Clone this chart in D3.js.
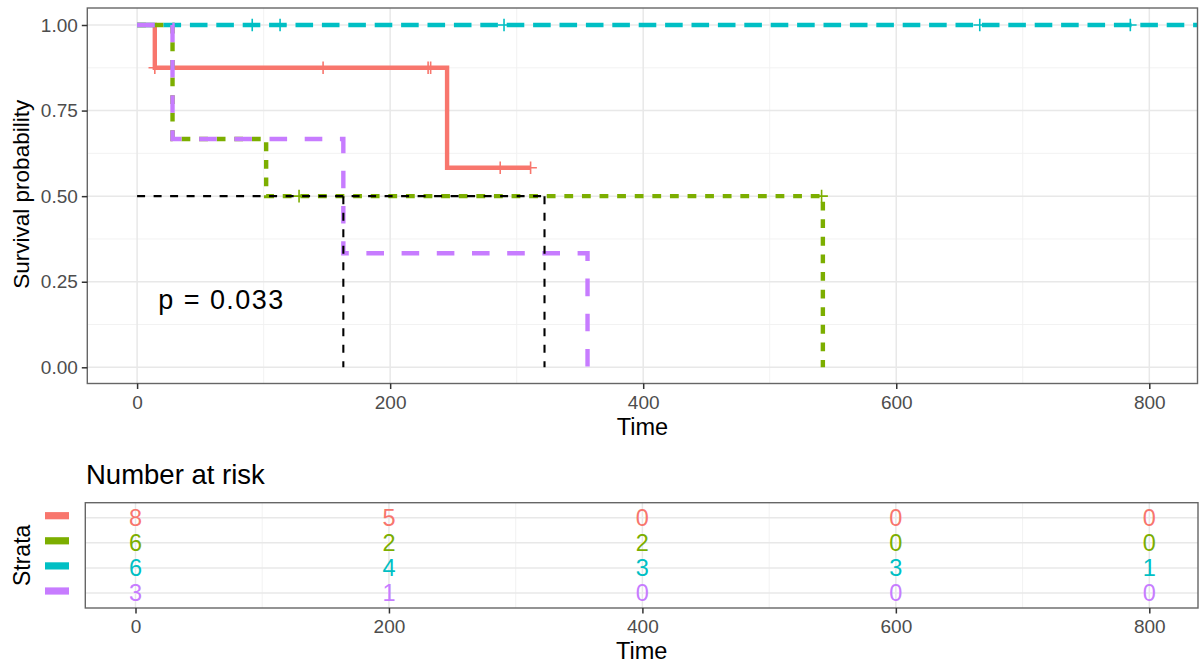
<!DOCTYPE html>
<html>
<head>
<meta charset="utf-8">
<script src="https://cdn.jsdelivr.net/npm/d3@7"></script>
<style>
  html, body { margin: 0; padding: 0; background: #fff; }
  svg { display: block; font-family: "Liberation Sans", Arial, Helvetica, sans-serif; }
</style>
</head>
<body>
<svg id="chart" width="1202" height="667"></svg>
<script>
// ---------------- data ----------------
const strata = ["1", "2", "3", "4"];
const strataColors = ["#F8766D", "#7CAE00", "#00BFC4", "#C77CFF"];

// step curves (time of each step, survival after step)
const timesS1 = [0, 14, 245, 311];
const survS1  = [1, 0.875, 0.583, 0.583];
const timesS2 = [0, 28, 102, 542];
const survS2  = [1, 0.667, 0.5, 0];
const timesS3 = [0, 870];
const survS3  = [1, 1];
const timesS4 = [0, 28, 163, 356];
const survS4  = [1, 0.667, 0.333, 0];

// censoring times
const censorS1 = [14, 147, 230, 232, 287, 311];
const censorS2 = [128, 541];
const censorS3 = [91, 113, 290, 666, 785];
const censorS4 = [];

// median survival lines
const medianTimes = [163, 322];
const medianLevel = 0.5;

const pValueLabel = "p = 0.033";

// number-at-risk table
const riskTimes = [0, 200, 400, 600, 800];
const riskS1 = [8, 5, 0, 0, 0];
const riskS2 = [6, 2, 2, 0, 0];
const riskS3 = [6, 4, 3, 3, 1];
const riskS4 = [3, 1, 0, 0, 0];

const xTicks = [0, 200, 400, 600, 800];
const xMinor = [100, 300, 500, 700];
const yTicks = [0, 0.25, 0.5, 0.75, 1];
const yMinor = [0.125, 0.375, 0.625, 0.875];

// ---------------- layout ----------------
const svg = d3.select("#chart");
const curves = [
  {t: timesS1, s: survS1, c: censorS1},
  {t: timesS2, s: survS2, c: censorS2},
  {t: timesS3, s: survS3, c: censorS3},
  {t: timesS4, s: survS4, c: censorS4}
];
const risks = [riskS1, riskS2, riskS3, riskS4];
const dashes = [null, "8.8,8.8", "17.6,8.8", "17.6,17.6"];
const lineW = 4.4;

const P = {left: 87.3, right: 1197.5, top: 8, bottom: 383.5};
const x = d3.scaleLinear().domain([0, 800]).range([137.1, 1149.3]);
const y = d3.scaleLinear().domain([0, 1]).range([367.3, 25]);

const fontTick = 19, fontTitle = 22.5;

// panel background + grid
const gMain = svg.append("g");
gMain.append("rect").attr("x", P.left).attr("y", P.top)
  .attr("width", P.right - P.left).attr("height", P.bottom - P.top).attr("fill", "#fff");
gMain.selectAll(".xminor").data(xMinor).join("line")
  .attr("x1", d => x(d)).attr("x2", d => x(d)).attr("y1", P.top).attr("y2", P.bottom)
  .attr("stroke", "#F0F0F0").attr("stroke-width", 0.9);
gMain.selectAll(".yminor").data(yMinor).join("line")
  .attr("y1", d => y(d)).attr("y2", d => y(d)).attr("x1", P.left).attr("x2", P.right)
  .attr("stroke", "#F0F0F0").attr("stroke-width", 0.9);
gMain.selectAll(".xmajor").data(xTicks).join("line")
  .attr("x1", d => x(d)).attr("x2", d => x(d)).attr("y1", P.top).attr("y2", P.bottom)
  .attr("stroke", "#E8E8E8").attr("stroke-width", 1.5);
gMain.selectAll(".ymajor").data(yTicks).join("line")
  .attr("y1", d => y(d)).attr("y2", d => y(d)).attr("x1", P.left).attr("x2", P.right)
  .attr("stroke", "#E8E8E8").attr("stroke-width", 1.5);

svg.append("clipPath").attr("id", "clipMain").append("rect")
  .attr("x", P.left).attr("y", P.top).attr("width", P.right - P.left).attr("height", P.bottom - P.top);

const plotG = svg.append("g").attr("clip-path", "url(#clipMain)");

const stepLine = d3.line().x(d => x(d[0])).y(d => y(d[1])).curve(d3.curveStepAfter);

curves.forEach((cv, i) => {
  const pts = cv.t.map((t, k) => [t, cv.s[k]]);
  const p = plotG.append("path").datum(pts)
    .attr("d", stepLine).attr("fill", "none")
    .attr("stroke", strataColors[i]).attr("stroke-width", lineW)
    .attr("stroke-linejoin", "miter").attr("stroke-linecap", "butt");
  if (dashes[i]) p.attr("stroke-dasharray", dashes[i]);
});

function survAt(cv, t) {
  let v = cv.s[0];
  for (let k = 0; k < cv.t.length; k++) if (cv.t[k] <= t) v = cv.s[k];
  return v;
}
const cs = 6.3;
curves.forEach((cv, i) => {
  cv.c.forEach(t => {
    const cx = x(t), cy = y(survAt(cv, t));
    plotG.append("path")
      .attr("d", `M${cx - cs},${cy}H${cx + cs}M${cx},${cy - cs}V${cy + cs}`)
      .attr("stroke", strataColors[i]).attr("stroke-width", 1.6).attr("fill", "none");
  });
});

// median lines
const medG = plotG.append("g").attr("stroke", "#000").attr("stroke-width", 2.1)
  .attr("stroke-dasharray", "8,8.5").attr("fill", "none");
medG.append("line").attr("x1", x(0)).attr("x2", x(d3.max(medianTimes)))
  .attr("y1", y(medianLevel)).attr("y2", y(medianLevel));
medianTimes.forEach(t => {
  medG.append("line").attr("x1", x(t)).attr("x2", x(t))
    .attr("y1", y(medianLevel)).attr("y2", y(0));
});

// p-value
svg.append("text").attr("x", 158.3).attr("y", 309)
  .attr("font-size", 27).attr("fill", "#000").attr("textLength", 125)
  .attr("lengthAdjust", "spacing").text(pValueLabel);

// panel border
svg.append("rect").attr("x", P.left).attr("y", P.top)
  .attr("width", P.right - P.left).attr("height", P.bottom - P.top)
  .attr("fill", "none").attr("stroke", "#666").attr("stroke-width", 1.4);

// axes
const yAxis = d3.axisLeft(y).tickValues(yTicks).tickFormat(d3.format(".2f"))
  .tickSize(5.5).tickSizeOuter(0).tickPadding(4);
const gy = svg.append("g").attr("transform", `translate(${P.left},0)`).call(yAxis);
const xAxis = d3.axisBottom(x).tickValues(xTicks).tickFormat(d3.format("d"))
  .tickSize(5.5).tickSizeOuter(0).tickPadding(6.5);
const gx = svg.append("g").attr("transform", `translate(0,${P.bottom})`).call(xAxis);
[gx, gy].forEach(g => {
  g.select(".domain").remove();
  g.selectAll(".tick line").attr("stroke", "#333").attr("stroke-width", 1.5);
  g.selectAll(".tick text").attr("fill", "#4D4D4D").attr("font-size", fontTick)
    .attr("font-family", "Liberation Sans, Arial, sans-serif");
});

svg.append("text").attr("x", (P.left + P.right) / 2).attr("y", 435)
  .attr("text-anchor", "middle").attr("font-size", 23.5).text("Time");
svg.append("text").attr("transform", `translate(29,${(P.top + P.bottom) / 2 - 1.5}) rotate(-90)`)
  .attr("text-anchor", "middle").attr("font-size", fontTitle).text("Survival probability");

// ---------------- risk table ----------------
const R = {left: 85.3, right: 1198, top: 502.7, bottom: 608};
const xr = d3.scaleLinear().domain([0, 800]).range([135.5, 1149.3]);
const yr = d3.scalePoint().domain(strata).range([517.7, 593]);

svg.append("text").attr("x", 86).attr("y", 483.5).attr("font-size", 27.5).text("Number at risk");

const gR = svg.append("g");
gR.append("rect").attr("x", R.left).attr("y", R.top)
  .attr("width", R.right - R.left).attr("height", R.bottom - R.top).attr("fill", "#fff");
gR.selectAll(".rxminor").data(xMinor).join("line")
  .attr("x1", d => xr(d)).attr("x2", d => xr(d)).attr("y1", R.top).attr("y2", R.bottom)
  .attr("stroke", "#F0F0F0").attr("stroke-width", 0.9);
gR.selectAll(".rxmajor").data(xTicks).join("line")
  .attr("x1", d => xr(d)).attr("x2", d => xr(d)).attr("y1", R.top).attr("y2", R.bottom)
  .attr("stroke", "#E8E8E8").attr("stroke-width", 1.5);
gR.selectAll(".rymajor").data(strata).join("line")
  .attr("y1", d => yr(d)).attr("y2", d => yr(d)).attr("x1", R.left).attr("x2", R.right)
  .attr("stroke", "#E8E8E8").attr("stroke-width", 1.5);

strata.forEach((s, i) => {
  gR.selectAll(".rv" + i).data(riskTimes).join("text")
    .attr("x", d => xr(d)).attr("y", yr(s)).attr("dy", "0.36em")
    .attr("text-anchor", "middle").attr("font-size", 23.5)
    .attr("fill", strataColors[i]).text((d, k) => risks[i][k]);
});

gR.append("rect").attr("x", R.left).attr("y", R.top)
  .attr("width", R.right - R.left).attr("height", R.bottom - R.top)
  .attr("fill", "none").attr("stroke", "#666").attr("stroke-width", 1.4);

// strata legend keys
svg.selectAll(".key").data(strata).join("rect")
  .attr("x", 45).attr("y", d => yr(d) - 2 - 3.6).attr("width", 24).attr("height", 7.2)
  .attr("fill", (d, i) => strataColors[i]);

const xrAxis = d3.axisBottom(xr).tickValues(xTicks).tickFormat(d3.format("d"))
  .tickSize(5.5).tickSizeOuter(0).tickPadding(6.5);
const gxr = svg.append("g").attr("transform", `translate(0,${R.bottom})`).call(xrAxis);
gxr.select(".domain").remove();
gxr.selectAll(".tick line").attr("stroke", "#333").attr("stroke-width", 1.5);
gxr.selectAll(".tick text").attr("fill", "#4D4D4D").attr("font-size", fontTick)
  .attr("font-family", "Liberation Sans, Arial, sans-serif");

svg.append("text").attr("x", (R.left + R.right) / 2).attr("y", 659)
  .attr("text-anchor", "middle").attr("font-size", 23.5).text("Time");
svg.append("text").attr("transform", `translate(30,${(R.top + R.bottom) / 2}) rotate(-90)`)
  .attr("text-anchor", "middle").attr("font-size", 23).text("Strata");
</script>
</body>
</html>
